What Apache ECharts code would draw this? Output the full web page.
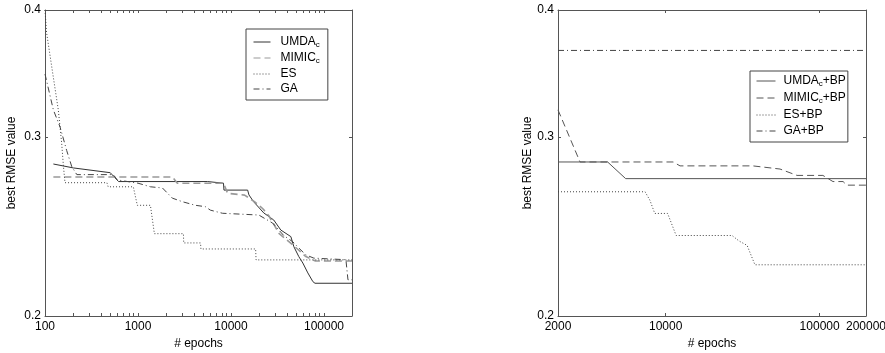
<!DOCTYPE html>
<html>
<head>
<meta charset="utf-8">
<script src="https://cdn.jsdelivr.net/npm/echarts@6/dist/echarts.min.js"></script>
<style>
  html, body {margin: 0; padding: 0; background: #fff;}
  #chart {width: 885px; height: 353px;}
</style>
</head>
<body>
<div id="chart"></div>
<script>
// left panel: algorithms on their own
const umdaEpochs = [123, 202, 503, 618, 5600, 5730, 8300, 8400, 15100, 15600, 17500, 22500, 28800, 34300, 44000, 47400, 53600, 59200, 67000, 75900, 80000, 200000];
const umdaRmse = [0.2822, 0.2797, 0.2767, 0.2712, 0.2712, 0.2702, 0.2702, 0.266, 0.266, 0.2631, 0.2591, 0.2526, 0.2486, 0.243, 0.2394, 0.234, 0.2288, 0.2255, 0.2205, 0.2162, 0.2154, 0.2154];
const mimicEpochs = [123, 2350, 2650, 8300, 9200, 14000, 18000, 22000, 25500, 33000, 39000, 46000, 54000, 63000, 81000, 200000];
const mimicRmse = [0.274, 0.274, 0.2702, 0.2702, 0.2641, 0.263, 0.259, 0.255, 0.251, 0.241, 0.238, 0.235, 0.232, 0.229, 0.2265, 0.2265];
const esEpochs = [100, 104, 118, 139, 151, 158, 164, 463, 478, 890, 983, 1360, 1500, 3080, 3100, 4700, 4750, 18400, 18600, 200000];
const esRmse = [0.4, 0.38, 0.352, 0.319, 0.296, 0.2805, 0.2705, 0.2705, 0.268, 0.268, 0.257, 0.257, 0.241, 0.241, 0.236, 0.236, 0.2328, 0.2328, 0.2271, 0.2271];
const gaEpochs = [100, 123, 145, 171, 194, 220, 540, 600, 1000, 1360, 1830, 2340, 3000, 4150, 5300, 6000, 8100, 19900, 28100, 36900, 46200, 53600, 63800, 77800, 172000, 181000, 200000];
const gaRmse = [0.346, 0.319, 0.307, 0.291, 0.2805, 0.2755, 0.2755, 0.2722, 0.2702, 0.268, 0.2673, 0.2612, 0.2591, 0.257, 0.2562, 0.2542, 0.2524, 0.2514, 0.2468, 0.24, 0.2366, 0.2333, 0.2297, 0.228, 0.2272, 0.2171, 0.2171];

// right panel: + BP
const umdaBpEpochs = [2000, 4200, 5500, 200000];
const umdaBpRmse = [0.2835, 0.2835, 0.273, 0.273];
const mimicBpEpochs = [2000, 2780, 11200, 12400, 36900, 55300, 71300, 105000, 122000, 142000, 150000, 200000];
const mimicBpRmse = [0.319, 0.2835, 0.2835, 0.281, 0.281, 0.279, 0.275, 0.275, 0.2712, 0.2712, 0.269, 0.269];
const esBpEpochs = [2000, 7350, 7900, 8500, 10300, 11700, 27000, 30000, 33800, 38000, 200000];
const esBpRmse = [0.265, 0.265, 0.26, 0.2523, 0.2523, 0.24, 0.24, 0.237, 0.2347, 0.2246, 0.2246];
const gaBpEpochs = [2000, 200000];
const gaBpRmse = [0.365, 0.365];

const leftNames = ['UMDA_c', 'MIMIC_c', 'ES', 'GA'];
const rightNames = ['UMDA_c+BP', 'MIMIC_c+BP', 'ES+BP', 'GA+BP'];
const leftXLabels = [100, 1000, 10000, 100000];
const rightXLabels = [2000, 10000, 100000, 200000];
const yLabels = [0.2, 0.3, 0.4];

const font = 'Liberation Sans, Arial, sans-serif';
const fs = 12;
const frame = '#555';

// matlab-ish log ticks 2..9 in every decade
const leftTicks = [];
for (let d = 100; d < 200000; d *= 10) {
  for (let k = 1; k < 10; k++) {
    const v = d * k;
    if (v > 100 && v < 200000) leftTicks.push(v);
  }
}
const rightTicks = [10000, 100000];

const pair = (xs, ys) => xs.map((x, i) => [x, ys[i]]);

function xAxes(grid, min, max, ticks, labels) {
  const base = {
    gridIndex: grid, type: 'log', logBase: 10, min: min, max: max,
    axisLine: {show: true, lineStyle: {color: frame, width: 1}},
    axisTick: {show: true, inside: true, length: 3, lineStyle: {color: frame}, customValues: ticks},
    splitLine: {show: false},
    minorTick: {show: false},
  };
  return [
    Object.assign({}, base, {
      position: 'bottom',
      axisLabel: {customValues: labels, formatter: v => String(Math.round(v)), margin: 5,
        fontSize: fs, color: '#000', fontFamily: font},
      name: '# epochs', nameLocation: 'middle', nameGap: 19,
      nameTextStyle: {fontSize: fs, color: '#000', fontFamily: font},
    }),
    Object.assign({}, base, {position: 'top', axisLabel: {show: false}}),
  ];
}

function yAxes(grid, gap) {
  const base = {
    gridIndex: grid, type: 'log', logBase: 10, min: 0.2, max: 0.4,
    axisLine: {show: true, lineStyle: {color: frame, width: 1}},
    axisTick: {show: true, inside: true, length: 3, lineStyle: {color: frame}, customValues: [0.3]},
    splitLine: {show: false},
    minorTick: {show: false},
  };
  return [
    Object.assign({}, base, {
      position: 'left',
      axisLabel: {customValues: yLabels, formatter: v => v.toFixed(1), margin: 4,
        fontSize: fs, color: '#000', fontFamily: font},
      name: 'best RMSE value', nameLocation: 'middle', nameRotate: 90, nameGap: gap,
      nameTextStyle: {fontSize: fs, color: '#000', fontFamily: font},
    }),
    Object.assign({}, base, {position: 'right', axisLabel: {show: false}}),
  ];
}

function line(name, xi, yi, data, color, width, type) {
  return {
    name: name, type: 'line', xAxisIndex: xi, yAxisIndex: yi,
    data: data, symbol: 'none', silent: true, animation: false,
    color: color, lineStyle: {color: color, width: width, type: type},
    emphasis: {disabled: true},
  };
}

const dashed = [7, 4];
const dotted = [1, 2];
const dashDot = [6, 3, 1, 3];

function legendFmt(name) {
  const parts = name.split('_c');
  let s = '{g| }{n|' + parts[0] + '}';
  if (parts.length > 1) {
    s += '{s|c}';
    if (parts[1]) s += '{n|' + parts[1] + '}';
  }
  return s;
}

function legendText(gap) {
  return {
    fontSize: fs, color: '#000', fontFamily: font,
    rich: {
      n: {fontSize: fs, lineHeight: 14, color: '#000', fontFamily: font},
      s: {fontSize: 8, lineHeight: 8, verticalAlign: 'bottom', color: '#000', fontFamily: font},
      g: {width: gap, fontSize: fs, lineHeight: 14},
    },
  };
}
const hideSymbol = {color: 'rgba(0,0,0,0)', borderWidth: 0, opacity: 0};

const chart = echarts.init(document.getElementById('chart'), null, {renderer: 'canvas'});
chart.setOption({
  animation: false,
  backgroundColor: '#fff',
  textStyle: {fontFamily: font},
  grid: [
    {left: 45, top: 10, width: 307, height: 306, containLabel: false, outerBoundsMode: 'none'},
    {left: 558, top: 10, width: 308, height: 306, containLabel: false, outerBoundsMode: 'none'},
  ],
  xAxis: [
    ...xAxes(0, 100, 200000, leftTicks, leftXLabels),
    ...xAxes(1, 2000, 200000, rightTicks, rightXLabels),
  ],
  yAxis: [
    ...yAxes(0, 27),
    ...yAxes(1, 24),
  ],
  legend: [
    {
      data: leftNames, orient: 'vertical', left: 246, top: 29,
      itemWidth: 17, itemHeight: 14, itemGap: 3, padding: [7, 8, 5, 7],
      borderColor: '#444', borderWidth: 1, backgroundColor: '#fff',
      selectedMode: false, itemStyle: hideSymbol, lineStyle: {width: 1},
      formatter: legendFmt, textStyle: legendText(5),
    },
    {
      data: rightNames, orient: 'vertical', left: 750, top: 71,
      itemWidth: 19, itemHeight: 14, itemGap: 4, padding: [4, 2, 5, 6],
      borderColor: '#444', borderWidth: 1, backgroundColor: '#fff',
      selectedMode: false, itemStyle: hideSymbol, lineStyle: {width: 1},
      formatter: legendFmt, textStyle: legendText(3),
    },
  ],
  series: [
    line(leftNames[0], 0, 0, pair(umdaEpochs, umdaRmse), '#333', 1, 'solid'),
    line(leftNames[1], 0, 0, pair(mimicEpochs, mimicRmse), '#999', 1.6, dashed),
    line(leftNames[2], 0, 0, pair(esEpochs, esRmse), '#444', 1, dotted),
    line(leftNames[3], 0, 0, pair(gaEpochs, gaRmse), '#444', 1, dashDot),
    line(rightNames[0], 2, 2, pair(umdaBpEpochs, umdaBpRmse), '#555', 1, 'solid'),
    line(rightNames[1], 2, 2, pair(mimicBpEpochs, mimicBpRmse), '#555', 1, dashed),
    line(rightNames[2], 2, 2, pair(esBpEpochs, esBpRmse), '#444', 1, dotted),
    line(rightNames[3], 2, 2, pair(gaBpEpochs, gaBpRmse), '#444', 1, dashDot),
  ],
});
</script>
</body>
</html>
